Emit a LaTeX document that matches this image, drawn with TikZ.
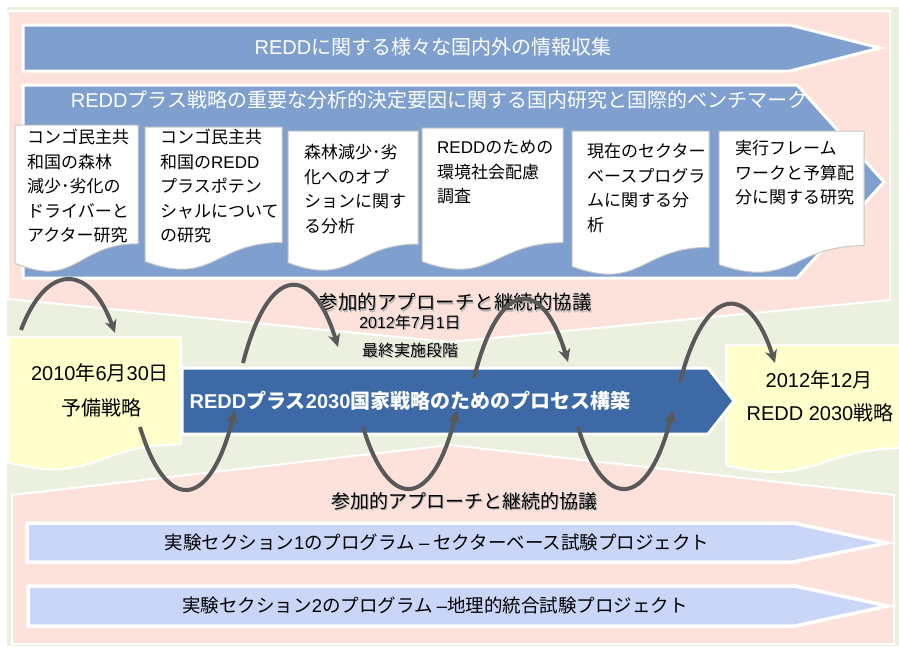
\documentclass[tikz,border=0pt]{standalone}
\usepackage{fontspec}
\setmainfont{Noto Sans CJK JP}
\newfontfamily\lat{Liberation Sans}
\usetikzlibrary{arrows.meta}
\definecolor{bggreen}{HTML}{EBF1DE}
\definecolor{bgpink}{HTML}{FCE2DA}
\definecolor{lightblue}{HTML}{7FA0CF}
\definecolor{darkblue}{HTML}{3D6AA7}
\definecolor{lavender}{HTML}{CAD6F8}
\definecolor{paleyellow}{HTML}{FFFFCC}
\definecolor{wavegray}{HTML}{595959}
\newcommand{\docshape}[5]{%
  \pgfmathsetmacro{\DocXr}{#2+#4}%
  \pgfmathsetmacro{\DocXm}{#2+#4/2}%
  \pgfmathsetmacro{\DocYa}{#3+0.802*#5}%
  \pgfmathsetmacro{\DocYb}{#3+1.1075*#5}%
  \pgfmathsetmacro{\DocYc}{#3+0.934*#5}%
  \draw[#1] (#2,#3) -- (\DocXr,#3) -- (\DocXr,\DocYa) .. controls (\DocXm,\DocYa) and (\DocXm,\DocYb) .. (#2,\DocYc) -- cycle;%
}
% wave arc: start, end, extreme y
\newcommand{\wavearc}[3]{%
  \path (#1) coordinate (WvA) (#2) coordinate (WvB);%
  \draw[wavearrow] let \p1=(WvA), \p2=(WvB) in
    (WvA) .. controls ({\x1+0.27*(\x2-\x1)},{(8*#3+\y1+\y2)/6}) and ({\x1+0.73*(\x2-\x1)},{(8*#3+\y1+\y2)/6}) .. (WvB);%
}
\newcommand{\shtext}[1]{\makebox[0pt][l]{\hspace{1.3pt}\raisebox{-1.3pt}{\textcolor{black!30}{#1}}}#1}
\tikzset{
  pinkregion/.style={fill=bgpink, draw=white, line width=2pt},
  bluearrow/.style={fill=lightblue, draw=white, line width=3pt, line join=miter},
  lavarrow/.style={fill=lavender, draw=white, line width=3.5pt, line join=miter},
  centerarrow/.style={fill=darkblue, draw=white, line width=3pt, line join=miter},
  docbox/.style={fill=white, draw=black!22, line width=1pt},
  yellowdoc/.style={fill=paleyellow, draw=white, line width=2pt},
  doctext/.style={anchor=north west, inner sep=0pt, align=left, font=\fontsize{17}{24.5}\selectfont},
  wavearrow/.style={draw=wavegray, line width=4pt, -{Stealth[length=13pt,width=12pt,inset=4pt]}},
  headtext/.style={text=white, inner sep=0pt, font=\fontsize{20}{24}\selectfont},
  plaintext/.style={inner sep=0pt, font=\fontsize{20}{24}\selectfont},
}
\usetikzlibrary{calc}
\begin{document}
\begin{tikzpicture}[x=1pt,y=-1pt]
\useasboundingbox (0,0) rectangle (899,646);
\fill[white] (0,0) rectangle (899,646);
\fill[bggreen] (7,7) rectangle (899,646);
% pink regions
\draw[pinkregion] (8,11) -- (890,11) -- (890,300) -- (450,342) -- (8,299) -- cycle;
\draw[pinkregion] (12,495) -- (450,445) -- (894,495) -- (894,644) -- (12,644) -- cycle;
% top arrows
\draw[bluearrow] (23,25) -- (790,25) -- (880,48) -- (790,71) -- (23,71) -- cycle;
\node[headtext] (info) at (433,47) {{\lat REDD}に関する様々な国内外の情報収集};
\draw[bluearrow] (23,85) -- (797,85) -- (884,182) -- (797,278) -- (23,278) -- cycle;
\node[headtext] (bench) at (439,100) {{\lat REDD}プラス戦略の重要な分析的決定要因に関する国内研究と国際的ベンチマーク};
% documents
\docshape{docbox}{15}{125}{123}{148}
\docshape{docbox}{145}{127}{137}{144}
\docshape{docbox}{288}{131}{130}{141}
\docshape{docbox}{422}{128}{141}{143}
\docshape{docbox}{572}{131}{137}{145}
\docshape{docbox}{719}{131}{145}{143}
\node[doctext] (d1) at (27,126.3) {\strut コンゴ民主共\\和国の森林\\減少･劣化の\\ドライバーと\\アクター研究};
\node[doctext] (d2) at (160,126.3) {\strut コンゴ民主共\\和国の{\lat REDD}\\プラスポテン\\シャルについて\\の研究};
\node[doctext] (d3) at (304,141.3) {\strut 森林減少･劣\\化へのオプ\\ションに関す\\る分析};
\node[doctext] (d4) at (437,136.3) {\strut {\lat REDD}のための\\環境社会配慮\\調査};
\node[doctext] (d5) at (587,140.3) {\strut 現在のセクター\\ベースプログラ\\ムに関する分\\析};
\node[doctext] (d6) at (735,137.3) {\strut 実行フレーム\\ワークと予算配\\分に関する研究};
% middle texts
\node[inner sep=0pt, font=\fontsize{19.5}{24}\selectfont] (part1) at (455,303) {\shtext{参加的アプローチと継続的協議}};
\node[inner sep=0pt, font=\fontsize{16}{20}\selectfont] (date1) at (410,323) {\shtext{{\lat 2012}年{\lat 7}月{\lat 1}日}};
\node[inner sep=0pt, font=\fontsize{16}{20}\selectfont] (final) at (410,351) {\shtext{最終実施段階}};
% yellow docs
\docshape{yellowdoc}{8}{337}{173}{134}
\docshape{yellowdoc}{726}{345}{180}{128.5}
\node[plaintext] (start1) at (100,373) {{\lat 2010}年{\lat 6}月{\lat 30}日};
\node[plaintext] (start2) at (101,408) {予備戦略};
\node[plaintext] (end1) at (819,380) {{\lat 2012}年{\lat 12}月};
\node[plaintext] (end2) at (820,413) {{\lat REDD 2030}戦略};
% center arrow
\draw[centerarrow] (182,368) -- (708,368) -- (734,401) -- (708,434) -- (182,434) -- cycle;
\node[headtext, font=\fontsize{20}{24}\selectfont\bfseries] (proc) at (410,401) {{\lat\bfseries REDD}プラス{\lat\bfseries 2030}国家戦略のためのプロセス構築};
% bottom
\node[inner sep=0pt, font=\fontsize{19}{24}\selectfont] (part2) at (464,502) {\shtext{参加的アプローチと継続的協議}};
\draw[lavarrow] (27,523) -- (793,523) -- (887,543) -- (793,562) -- (27,562) -- cycle;
\node[inner sep=0pt, font=\fontsize{18.5}{22}\selectfont] (pilot1) at (437,542) {実験セクション{\lat 1}のプログラム {\lat –} セクターベース試験プロジェクト};
\draw[lavarrow] (28,586) -- (795,586) -- (888,606) -- (795,626) -- (28,626) -- cycle;
\node[inner sep=0pt, font=\fontsize{18.5}{22}\selectfont] (pilot2) at (435,605) {実験セクション{\lat 2}のプログラム {\lat –}地理的統合試験プロジェクト};
% wave arrows
\coordinate (w1s) at (21,330);  \coordinate (w1e) at (115,333);
\coordinate (w2s) at (140,427); \coordinate (w2e) at (235,410);
\coordinate (w3s) at (243,363); \coordinate (w3e) at (338,347);
\coordinate (w4s) at (363,427); \coordinate (w4e) at (457,410);
\coordinate (w5s) at (474,378); \coordinate (w5e) at (568,362);
\coordinate (w6s) at (578,427); \coordinate (w6e) at (673,410);
\coordinate (w7s) at (680,382); \coordinate (w7e) at (775,363);
\draw[wavearrow] (w1s) .. controls (46.4,262.8) and (89.6,262.8) .. (w1e);
\draw[wavearrow] (w2s) .. controls (165.6,512.5) and (209.4,512.5) .. (w2e);
\draw[wavearrow] (w3s) .. controls (268.6,263) and (312.4,263) .. (w3e);
\draw[wavearrow] (w4s) .. controls (388.4,511.2) and (431.6,511.2) .. (w4e);
\draw[wavearrow] (w5s) .. controls (499.4,276.7) and (542.6,276.7) .. (w5e);
\draw[wavearrow] (w6s) .. controls (603.6,511.2) and (647.4,511.2) .. (w6e);
\draw[wavearrow] (w7s) .. controls (705.6,282.5) and (749.4,282.5) .. (w7e);
\end{tikzpicture}
\end{document}
